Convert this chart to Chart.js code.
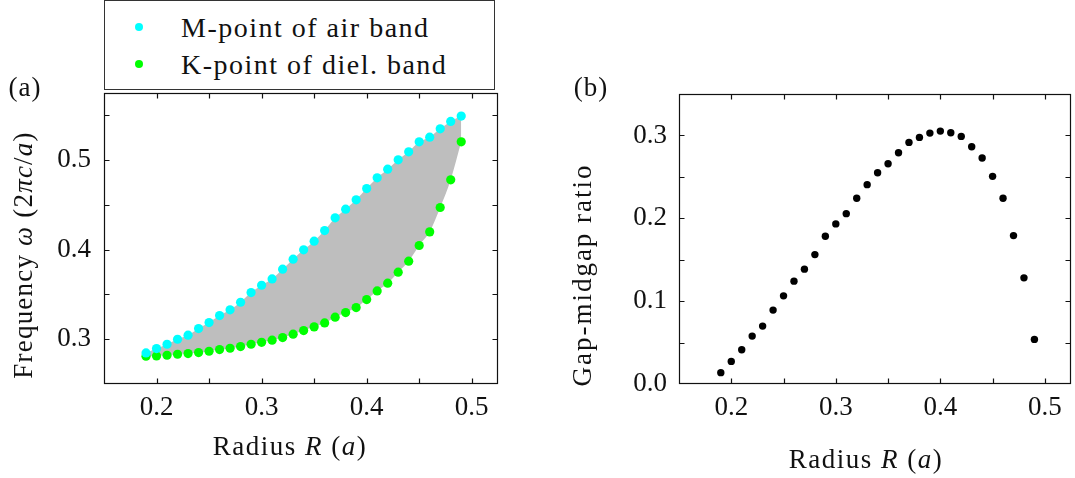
<!DOCTYPE html>
<html>
<head>
<meta charset="utf-8">
<script src="https://cdn.jsdelivr.net/npm/chart.js@4.4.0/dist/chart.umd.min.js"></script>
<style>
  html, body { margin: 0; padding: 0; background: #fff; }
  #wrap { position: relative; width: 1075px; height: 478px; overflow: hidden; background: #fff; }
  #ca { position: absolute; left: 0; top: 0; }
  #cb { position: absolute; left: 537px; top: 0; }
  #legend { position: absolute; left: 104px; top: 0; width: 391px; height: 90px; box-sizing: border-box;
            border: 1px solid #333; background: #fff;
            font-family: "Liberation Serif", serif; font-size: 28px; letter-spacing: 1.5px; color: #111; }
  #legend .txt { position: absolute; left: 76px; line-height: 28px; white-space: nowrap; }
  #legend .dot { position: absolute; width: 8px; height: 8px; border-radius: 50%; }
</style>
</head>
<body>
<div id="wrap">
  <canvas id="ca" width="537" height="478"></canvas>
  <canvas id="cb" width="538" height="478"></canvas>
  <div id="legend">
    <div class="dot" style="left:30px;top:22px;background:#00ffff"></div>
    <div class="txt" style="top:13px">M-point of air band</div>
    <div class="dot" style="left:30px;top:59px;background:#00ff00"></div>
    <div class="txt" style="top:50px">K-point of diel. band</div>
  </div>
</div>
<script>
// ---------- data ----------
const radius = [0.19, 0.20, 0.21, 0.22, 0.23, 0.24, 0.25, 0.26, 0.27, 0.28,
                0.29, 0.30, 0.31, 0.32, 0.33, 0.34, 0.35, 0.36, 0.37, 0.38,
                0.39, 0.40, 0.41, 0.42, 0.43, 0.44, 0.45, 0.46, 0.47, 0.48, 0.49];
const airBandM = [0.2847, 0.2896, 0.2944, 0.3000, 0.3045, 0.3119, 0.3186, 0.3264, 0.3328, 0.3413,
                  0.3521, 0.3603, 0.3674, 0.3782, 0.3894, 0.3998, 0.4095, 0.4214, 0.4356, 0.4453,
                  0.4557, 0.4683, 0.4803, 0.4899, 0.5004, 0.5093, 0.5205, 0.5257, 0.5350, 0.5432, 0.5492];
const dielBandK = [0.2810, 0.2814, 0.2821, 0.2832, 0.2840, 0.2851, 0.2866, 0.2885, 0.2899, 0.2918,
                   0.2944, 0.2966, 0.2989, 0.3019, 0.3056, 0.3097, 0.3138, 0.3182, 0.3246, 0.3298,
                   0.3354, 0.3443, 0.3540, 0.3626, 0.3749, 0.3872, 0.4047, 0.4199, 0.4471, 0.4780, 0.5205];
const gapMidgap = [0.0137, 0.0273, 0.0414, 0.0578, 0.0699, 0.0892, 0.1064, 0.1241, 0.1386, 0.1562,
                   0.1783, 0.1932, 0.2056, 0.2241, 0.2406, 0.2550, 0.2659, 0.2791, 0.2916, 0.2976,
                   0.3028, 0.3052, 0.3032, 0.2988, 0.2863, 0.2727, 0.2506, 0.2241, 0.1791, 0.1281, 0.0538];
const seriesNames = ["M-point of air band", "K-point of diel. band"];
const xTickLabels = [0.2, 0.3, 0.4, 0.5];
const xTickMarks = [0.2, 0.25, 0.3, 0.35, 0.4, 0.45, 0.5];
const yTickLabelsA = [0.3, 0.4, 0.5];
const yTickMarksA = [0.3, 0.35, 0.4, 0.45, 0.5, 0.55];
const yTickLabelsB = [0.0, 0.1, 0.2, 0.3];
const yTickMarksB = [0.05, 0.1, 0.15, 0.2, 0.25, 0.3];

// ---------- helpers ----------
const FONT = '"Liberation Serif", "DejaVu Serif", serif';
const pts = (ys) => radius.map((r, i) => ({ x: r, y: ys[i] }));

function framePlugin(xMarks, yMarks) {
  return {
    id: 'frame',
    afterDatasetsDraw(chart) {
      const { ctx, chartArea: a, scales: { x, y } } = chart;
      ctx.save();
      ctx.strokeStyle = '#111';
      ctx.lineWidth = 1.2;
      const L = Math.round(a.left) + 0.5, R = Math.round(a.right) - 0.5;
      const T = Math.round(a.top) + 0.5, B = Math.round(a.bottom) - 0.5;
      ctx.strokeRect(L, T, R - L, B - T);
      const tl = 5;
      ctx.beginPath();
      xMarks.forEach(v => {
        const p = Math.round(x.getPixelForValue(v)) + 0.5;
        ctx.moveTo(p, B); ctx.lineTo(p, B - tl);
        ctx.moveTo(p, T); ctx.lineTo(p, T + tl);
      });
      yMarks.forEach(v => {
        const p = Math.round(y.getPixelForValue(v)) + 0.5;
        ctx.moveTo(L, p); ctx.lineTo(L + tl, p);
        ctx.moveTo(R, p); ctx.lineTo(R - tl, p);
      });
      ctx.stroke();
      ctx.restore();
    }
  };
}

function drawRich(ctx, segs, size, cx, cy, rotate, ls) {
  ctx.save();
  ctx.translate(cx, cy);
  if (rotate) ctx.rotate(-Math.PI / 2);
  ctx.fillStyle = '#111';
  ctx.textBaseline = 'alphabetic';
  ctx.textAlign = 'left';
  if ('letterSpacing' in ctx) ctx.letterSpacing = ls + 'px';
  let w = 0;
  segs.forEach(s => { ctx.font = (s.i ? 'italic ' : '') + size + 'px ' + FONT; w += ctx.measureText(s.t).width; });
  let x = -w / 2;
  segs.forEach(s => {
    ctx.font = (s.i ? 'italic ' : '') + size + 'px ' + FONT;
    ctx.fillText(s.t, x, 0);
    x += ctx.measureText(s.t).width;
  });
  ctx.restore();
}

function textPlugin(items) {
  return {
    id: 'texts',
    afterDraw(chart) {
      items.forEach(it => drawRich(chart.ctx, it.segs, it.size, it.x, it.y, it.rot, it.ls));
    }
  };
}

function axisX(afterH) {
  return {
    type: 'linear', min: 0.15, max: 0.525,
    grid: { display: false, drawTicks: false },
    border: { display: false },
    afterBuildTicks: s => { s.ticks = xTickLabels.map(v => ({ value: v })); },
    afterFit: s => { s.height = afterH; },
    ticks: { autoSkip: false, maxRotation: 0, padding: 8, color: '#111',
             font: { family: FONT, size: 27 }, callback: v => Number(v).toFixed(1) }
  };
}
function axisY(min, max, labels, w, pad) {
  return {
    type: 'linear', min: min, max: max,
    grid: { display: false, drawTicks: false },
    border: { display: false },
    afterBuildTicks: s => { s.ticks = labels.map(v => ({ value: v })); },
    afterFit: s => { s.width = w; },
    ticks: { autoSkip: false, padding: pad, color: '#111',
             font: { family: FONT, size: 27 }, callback: v => Number(v).toFixed(1) }
  };
}

const commonPlugins = { legend: { display: false }, tooltip: { enabled: false } };

// ---------- panel (a) ----------
new Chart(document.getElementById('ca'), {
  type: 'line',
  data: {
    datasets: [
      { label: 'gap', data: pts(airBandM), showLine: true, fill: '+1', backgroundColor: '#bebebe',
        borderColor: 'rgba(0,0,0,0)', borderWidth: 0, pointRadius: 0, cubicInterpolationMode: 'monotone', order: 3 },
      { label: 'gapLower', data: pts(dielBandK), showLine: true, fill: false,
        borderColor: 'rgba(0,0,0,0)', borderWidth: 0, pointRadius: 0, cubicInterpolationMode: 'monotone', order: 3 },
      { label: seriesNames[0], data: pts(airBandM), showLine: false, pointRadius: 4.6,
        pointBackgroundColor: '#00ffff', pointBorderWidth: 0, pointBorderColor: '#00ffff', order: 0 },
      { label: seriesNames[1], data: pts(dielBandK), showLine: false, pointRadius: 4.6,
        pointBackgroundColor: '#00ff00', pointBorderWidth: 0, pointBorderColor: '#00ff00', order: 1 }
    ]
  },
  options: {
    responsive: false, animation: false, events: [],
    layout: { padding: { left: 0, right: 39, top: 93, bottom: 0 } },
    plugins: commonPlugins,
    scales: { x: axisX(94), y: axisY(0.25, 0.575, yTickLabelsA, 104, 13) }
  },
  plugins: [framePlugin(xTickMarks, yTickMarksA), textPlugin([
    { segs: [{ t: '(a)' }], size: 27, x: 25, y: 96, rot: false, ls: 1 },
    { segs: [{ t: 'Radius ' }, { t: 'R', i: true }, { t: ' (' }, { t: 'a', i: true }, { t: ')' }],
      size: 27, x: 290, y: 455, rot: false, ls: 1.5 },
    { segs: [{ t: 'Frequency ' }, { t: 'ω', i: true }, { t: ' (2' }, { t: 'πc', i: true }, { t: '/' }, { t: 'a', i: true }, { t: ')' }],
      size: 27, x: 32, y: 255, rot: true, ls: 1.2 }
  ])]
});

// ---------- panel (b) ----------
new Chart(document.getElementById('cb'), {
  type: 'line',
  data: {
    datasets: [
      { label: 'Gap-midgap ratio', data: pts(gapMidgap), showLine: false, pointRadius: 3.7,
        pointBackgroundColor: '#000', pointBorderWidth: 0, pointBorderColor: '#000' }
    ]
  },
  options: {
    responsive: false, animation: false, events: [],
    layout: { padding: { left: 0, right: 3, top: 94, bottom: 0 } },
    plugins: commonPlugins,
    scales: { x: axisX(94), y: axisY(0, 0.35, yTickLabelsB, 142, 12) }
  },
  plugins: [framePlugin(xTickMarks, yTickMarksB), textPlugin([
    { segs: [{ t: '(b)' }], size: 27, x: 54, y: 96, rot: false, ls: 1 },
    { segs: [{ t: 'Radius ' }, { t: 'R', i: true }, { t: ' (' }, { t: 'a', i: true }, { t: ')' }],
      size: 27, x: 329, y: 468, rot: false, ls: 1.5 },
    { segs: [{ t: 'Gap-midgap ratio' }],
      size: 27, x: 54, y: 275, rot: true, ls: 2 }
  ])]
});
</script>
</body>
</html>
